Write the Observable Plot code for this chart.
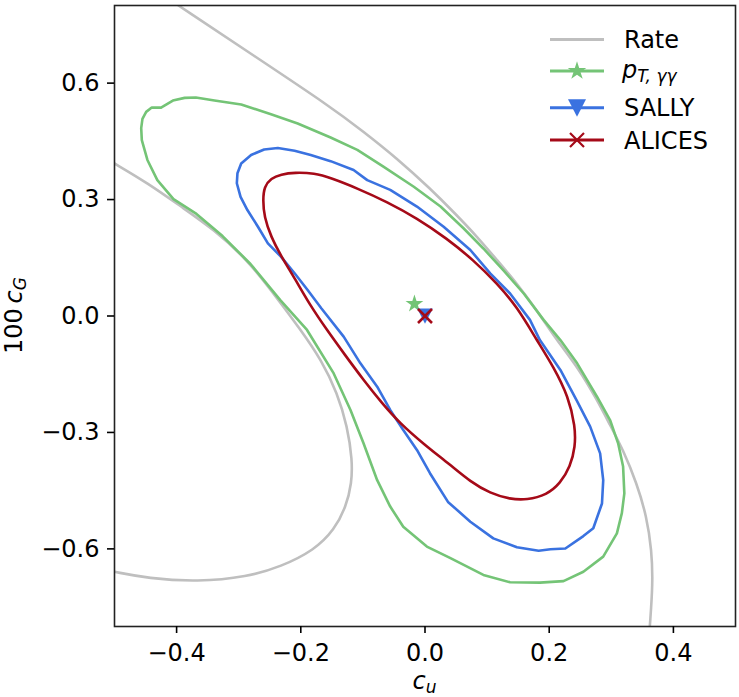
<!DOCTYPE html>
<html><head><meta charset="utf-8">
<script src="https://cdn.jsdelivr.net/npm/d3@7"></script>
<script src="https://cdn.jsdelivr.net/npm/@observablehq/plot@0.6"></script>
<style>body{margin:0;background:#fff;} #chart svg{display:block;}</style>
</head><body><div id="chart"></div>
<script>
// ---- data ----
const xTicks = [-0.4, -0.2, 0.0, 0.2, 0.4];
const yTicks = [-0.6, -0.3, 0.0, 0.3, 0.6];
const seriesNames = ["Rate", "pT", "SALLY", "ALICES"];

// Rate: two branches of the rate-only contour
const rateOuter = [[-0.397,0.800],[-0.275,0.670],[-0.152,0.539],[-0.099,0.475],[-0.045,0.406],[0.008,0.329],[0.051,0.260],[0.084,0.204],[0.116,0.144],[0.148,0.084],[0.180,0.015],[0.212,-0.062],[0.247,-0.134],[0.277,-0.216],[0.298,-0.281],[0.319,-0.345],[0.341,-0.431],[0.357,-0.517],[0.365,-0.603],[0.367,-0.689],[0.362,-0.800]];
const rateInner = [[-0.500,0.393],[-0.446,0.342],[-0.393,0.282],[-0.339,0.222],[-0.286,0.144],[-0.248,0.067],[-0.200,-0.036],[-0.167,-0.113],[-0.141,-0.199],[-0.125,-0.285],[-0.117,-0.371],[-0.118,-0.431],[-0.127,-0.491],[-0.146,-0.551],[-0.178,-0.603],[-0.232,-0.646],[-0.286,-0.672],[-0.366,-0.685],[-0.446,-0.676],[-0.500,-0.659]];
// p_T,γγ histogram contour
const ptContour = [[-0.425,0.537],[-0.406,0.555],[-0.387,0.562],[-0.369,0.563],[-0.339,0.555],[-0.296,0.545],[-0.248,0.520],[-0.205,0.496],[-0.152,0.460],[-0.109,0.428],[-0.067,0.385],[-0.018,0.333],[0.025,0.282],[0.062,0.226],[0.094,0.174],[0.126,0.118],[0.159,0.058],[0.191,-0.010],[0.218,-0.062],[0.245,-0.122],[0.277,-0.208],[0.298,-0.268],[0.311,-0.328],[0.319,-0.388],[0.321,-0.457],[0.317,-0.508],[0.309,-0.560],[0.287,-0.620],[0.255,-0.659],[0.223,-0.683],[0.185,-0.687],[0.137,-0.686],[0.094,-0.667],[0.041,-0.624],[0.003,-0.594],[-0.035,-0.543],[-0.056,-0.491],[-0.077,-0.423],[-0.099,-0.328],[-0.120,-0.242],[-0.147,-0.148],[-0.190,-0.036],[-0.233,0.041],[-0.281,0.134],[-0.326,0.206],[-0.368,0.263],[-0.405,0.301],[-0.431,0.350],[-0.447,0.402],[-0.456,0.453],[-0.457,0.484],[-0.455,0.508],[-0.449,0.526],[-0.440,0.537]];
// SALLY contour
const sallyContour = [[-0.303,0.342],[-0.302,0.368],[-0.296,0.393],[-0.280,0.415],[-0.259,0.429],[-0.237,0.433],[-0.210,0.426],[-0.184,0.415],[-0.152,0.399],[-0.115,0.376],[-0.093,0.350],[-0.056,0.325],[-0.013,0.282],[0.030,0.230],[0.073,0.170],[0.105,0.110],[0.137,0.058],[0.169,-0.010],[0.185,-0.062],[0.218,-0.139],[0.244,-0.217],[0.266,-0.285],[0.282,-0.354],[0.287,-0.423],[0.285,-0.483],[0.271,-0.547],[0.255,-0.567],[0.226,-0.599],[0.202,-0.601],[0.183,-0.605],[0.148,-0.596],[0.110,-0.573],[0.073,-0.530],[0.037,-0.479],[0.008,-0.405],[-0.013,-0.345],[-0.035,-0.294],[-0.056,-0.242],[-0.077,-0.182],[-0.104,-0.122],[-0.131,-0.053],[-0.167,0.020],[-0.189,0.067],[-0.210,0.110],[-0.232,0.153],[-0.253,0.187],[-0.269,0.230],[-0.286,0.273],[-0.297,0.307]];
// ALICES contour
const alicesContour = [[-0.261,0.299],[-0.259,0.333],[-0.248,0.355],[-0.232,0.365],[-0.210,0.370],[-0.178,0.368],[-0.152,0.356],[-0.109,0.329],[-0.061,0.294],[-0.013,0.252],[0.035,0.200],[0.078,0.144],[0.116,0.084],[0.148,0.024],[0.180,-0.062],[0.207,-0.131],[0.231,-0.208],[0.242,-0.285],[0.242,-0.337],[0.234,-0.388],[0.218,-0.431],[0.196,-0.461],[0.164,-0.474],[0.137,-0.472],[0.105,-0.457],[0.073,-0.427],[0.041,-0.384],[-0.002,-0.330],[-0.040,-0.277],[-0.069,-0.225],[-0.099,-0.165],[-0.129,-0.100],[-0.158,-0.036],[-0.186,0.030],[-0.209,0.095],[-0.232,0.155],[-0.248,0.204],[-0.259,0.256]];
// best-fit points
const ptBest = [[-0.017, 0.031]];
const sallyBest = [[0.0, 0.0]];
const alicesBest = [[0.0, 0.0]];

// ---- styles ----
const C = {Rate: "#bfbfbf", pT: "#74c476", SALLY: "#3a72e0", ALICES: "#a50a18"};
const LW = 2.6;
const triDown = {draw(ctx, size) { const r = Math.sqrt(size / Math.PI); ctx.moveTo(-r, -r * 0.95); ctx.lineTo(r, -r * 0.95); ctx.lineTo(0, r); ctx.closePath(); }};
const timesSym = {draw(ctx, size) { const r = Math.sqrt(size / Math.PI); ctx.moveTo(-r, -r); ctx.lineTo(r, r); ctx.moveTo(-r, r); ctx.lineTo(r, -r); }};
const fmt = d3.format(".1f");
const X = d => d[0], Y = d => d[1];
const FONT = "DejaVu Sans, sans-serif";

const plot = Plot.plot({
  width: 739, height: 697,
  marginLeft: 114, marginRight: 4, marginTop: 5, marginBottom: 71,
  x: {domain: [-0.5, 0.5]},
  y: {domain: [-0.8, 0.8]},
  style: {fontFamily: FONT, fontSize: "24px", color: "#000", background: "#fff", overflow: "visible"},
  marks: [
    Plot.line(rateOuter, {x: X, y: Y, stroke: C.Rate, strokeWidth: LW, curve: "basis", clip: true}),
    Plot.line(rateInner, {x: X, y: Y, stroke: C.Rate, strokeWidth: LW, curve: "basis", clip: true}),
    Plot.line(ptContour, {x: X, y: Y, stroke: C.pT, strokeWidth: LW, curve: "linear-closed"}),
    Plot.line(sallyContour, {x: X, y: Y, stroke: C.SALLY, strokeWidth: LW, curve: "linear-closed"}),
    Plot.line(alicesContour, {x: X, y: Y, stroke: C.ALICES, strokeWidth: LW, curve: "basis-closed"}),
    Plot.dot(ptBest, {x: X, y: Y, symbol: "star", r: 5.6, fill: C.pT, stroke: "none"}),
    Plot.dot(sallyBest, {x: X, y: Y, symbol: triDown, r: 7.8, fill: C.SALLY, stroke: "none"}),
    Plot.dot(alicesBest, {x: X, y: Y, symbol: timesSym, r: 7, fill: "none", stroke: C.ALICES, strokeWidth: 2.6}),
    Plot.frame({stroke: "#222", strokeWidth: 1.6}),
    Plot.axisX({ticks: xTicks, tickSize: 7, tickPadding: 10, tickFormat: fmt, label: null, fontSize: 24, strokeWidth: 1.6}),
    Plot.axisY({ticks: yTicks, tickSize: 7, tickPadding: 8, tickFormat: fmt, label: null, fontSize: 24, strokeWidth: 1.6})
  ]
});
document.getElementById("chart").appendChild(plot);

// ---- axis labels (italic math with subscripts) ----
const svg = d3.select(plot);
const xs = plot.scale("x"), ys = plot.scale("y");
const xMid = (xs.range[0] + xs.range[1]) / 2;
const yMid = (ys.range[0] + ys.range[1]) / 2;

const xl = svg.append("text").attr("x", xMid).attr("y", 689).attr("text-anchor", "middle")
  .attr("font-family", FONT).attr("font-size", 24).attr("fill", "#000");
xl.append("tspan").attr("font-style", "italic").text("c");
xl.append("tspan").attr("font-style", "italic").attr("font-size", 17).attr("dy", 4).text("u");

const yl = svg.append("text").attr("transform", `translate(22,${yMid}) rotate(-90)`).attr("text-anchor", "middle")
  .attr("font-family", FONT).attr("font-size", 24).attr("fill", "#000");
yl.append("tspan").text("100\u2009");
yl.append("tspan").attr("font-style", "italic").text("c");
yl.append("tspan").attr("font-style", "italic").attr("font-size", 17).attr("dy", 4).text("G");

// ---- legend ----
const leg = svg.append("g").attr("font-family", FONT).attr("font-size", 24).attr("fill", "#000").attr("text-anchor", "start");
const rowY = [39.5, 71, 107.7, 140];
const lx0 = 550, lx1 = 604, tx = 624;
seriesNames.forEach((name, i) => {
  const y = rowY[i];
  leg.append("line").attr("x1", lx0).attr("x2", lx1).attr("y1", y).attr("y2", y)
    .attr("stroke", C[name]).attr("stroke-width", LW + 0.3);
  const mx = (lx0 + lx1) / 2;
  if (name === "pT") {
    leg.append("path").attr("d", d3.symbol(d3.symbolStar, Math.PI * 5.8 * 5.8)()).attr("transform", `translate(${mx},${y})`).attr("fill", C.pT);
    const t = leg.append("text").attr("x", tx - 2).attr("y", y + 6.5);
    t.append("tspan").attr("font-style", "italic").text("p");
    t.append("tspan").attr("font-style", "italic").attr("font-size", 17).attr("dy", 4).text("T, \u03b3\u03b3");
  } else {
    if (name === "SALLY") leg.append("path").attr("d", d3.symbol(triDown, Math.PI * 9 * 9)()).attr("transform", `translate(${mx},${y})`).attr("fill", C.SALLY);
    if (name === "ALICES") leg.append("path").attr("d", d3.symbol(timesSym, Math.PI * 7 * 7)()).attr("transform", `translate(${mx},${y})`).attr("fill", "none").attr("stroke", C.ALICES).attr("stroke-width", 2.2);
    leg.append("text").attr("x", tx).attr("y", y).attr("dy", "0.36em").text(name);
  }
});
</script>
</body></html>
